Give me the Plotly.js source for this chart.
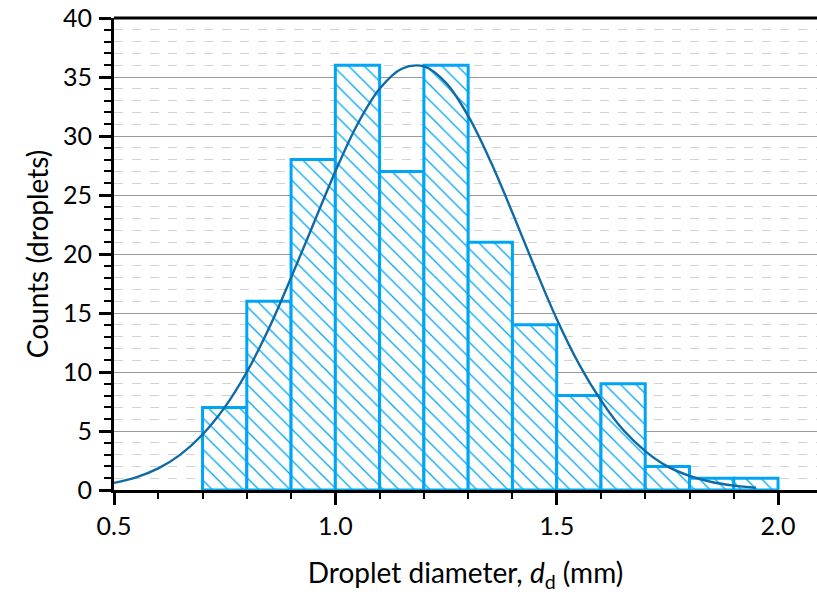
<!DOCTYPE html>
<html>
<head>
<meta charset="utf-8">
<script src="https://cdn.plot.ly/plotly-3.0.1.min.js"></script>
<style>html,body{margin:0;padding:0;background:#fff;}</style>
</head>
<body>
<div id="chart" style="width:817px;height:594px;"></div>
<script>
// Histogram bins (centres, mm) and counts
const binCenters = [0.75, 0.85, 0.95, 1.05, 1.15, 1.25, 1.35, 1.45, 1.55, 1.65, 1.75, 1.85, 1.95];
const counts     = [7, 16, 28, 36, 27, 36, 21, 14, 8, 9, 2, 1, 1];

// Fitted curve, values
const fitX = [0.5, 0.55, 0.6, 0.65, 0.7, 0.75, 0.8, 0.85, 0.9, 0.95, 1.0, 1.05, 1.1, 1.15, 1.2,
              1.25, 1.3, 1.35, 1.4, 1.45, 1.5, 1.55, 1.6, 1.65, 1.7, 1.75, 1.8, 1.85, 1.9, 1.95];
const fitY = [0.6, 1.07, 1.83, 3.0, 4.7, 7.0, 10.0, 13.7, 18.0, 22.5, 27.0, 31.0, 34.0, 35.7, 35.9,
              34.5, 31.7, 27.9, 23.5, 18.9, 14.5, 10.7, 7.6, 5.1, 3.3, 2.0, 1.2, 0.68, 0.37, 0.19];

const xTickVals  = [0.5, 1.0, 1.5, 2.0];
const xTickText  = ['0.5', '1.0', '1.5', '2.0'];

const FONT = 'Lato, "Open Sans", "DejaVu Sans", sans-serif';
const barColor = '#00a6f5';

const traces = [
  {
    type: 'bar',
    x: binCenters,
    y: counts,
    width: 0.1,
    marker: {
      color: 'rgba(0,0,0,0)',
      line: {color: barColor, width: 3},
      pattern: {shape: '\\', fgcolor: barColor, bgcolor: 'white', size: 11, solidity: 0.12, fillmode: 'replace'}
    },
    hoverinfo: 'x+y',
    showlegend: false
  },
  {
    type: 'scatter',
    mode: 'lines',
    x: fitX,
    y: fitY,
    line: {color: '#0e6aa6', width: 2.4, shape: 'spline'},
    showlegend: false
  }
];

const layout = {
  width: 817,
  height: 594,
  margin: {l: 114, r: 0, t: 18, b: 104},
  paper_bgcolor: 'white',
  plot_bgcolor: 'white',
  font: {family: FONT, color: '#000', size: 25},
  bargap: 0,
  xaxis: {
    range: [0.5, 2.088],
    tickmode: 'array',
    tickvals: xTickVals,
    ticktext: xTickText,
    ticks: 'outside',
    ticklen: 12,
    tickwidth: 3,
    tickcolor: 'black',
    showline: true,
    linecolor: 'black',
    linewidth: 3,
    showgrid: false,
    zeroline: false,
    tickfont: {family: FONT, size: 25, color: '#000'},
    minor: {dtick: 0.1, tick0: 0.5, ticks: 'outside', ticklen: 6, tickwidth: 2, tickcolor: 'black', showgrid: false},
    title: {text: 'Droplet diameter, <i>d</i><sub>d</sub> (mm)', font: {family: FONT, size: 28, color: '#000'}, standoff: 25}
  },
  yaxis: {
    range: [0, 40],
    dtick: 5,
    tick0: 0,
    ticks: 'outside',
    ticklen: 12,
    tickwidth: 3,
    tickcolor: 'black',
    showline: true,
    linecolor: 'black',
    linewidth: 3,
    showgrid: true,
    gridcolor: '#9a9a9a',
    gridwidth: 1,
    zeroline: false,
    tickfont: {family: FONT, size: 25, color: '#000'},
    ticklabelstandoff: 2,
    minor: {dtick: 1, ticks: 'outside', ticklen: 7, tickwidth: 2, tickcolor: 'black',
            showgrid: true, gridcolor: '#d2d2d2', griddash: 'dash', gridwidth: 1},
    title: {text: 'Counts (droplets)', font: {family: FONT, size: 28, color: '#000'}, standoff: 7}
  },
  shapes: [
    {type: 'line', xref: 'paper', yref: 'paper', x0: 0, x1: 1, y0: 1, y1: 1,
     line: {color: 'black', width: 3}}
  ]
};

Plotly.newPlot('chart', traces, layout, {displayModeBar: false, staticPlot: true});
</script>
</body>
</html>
